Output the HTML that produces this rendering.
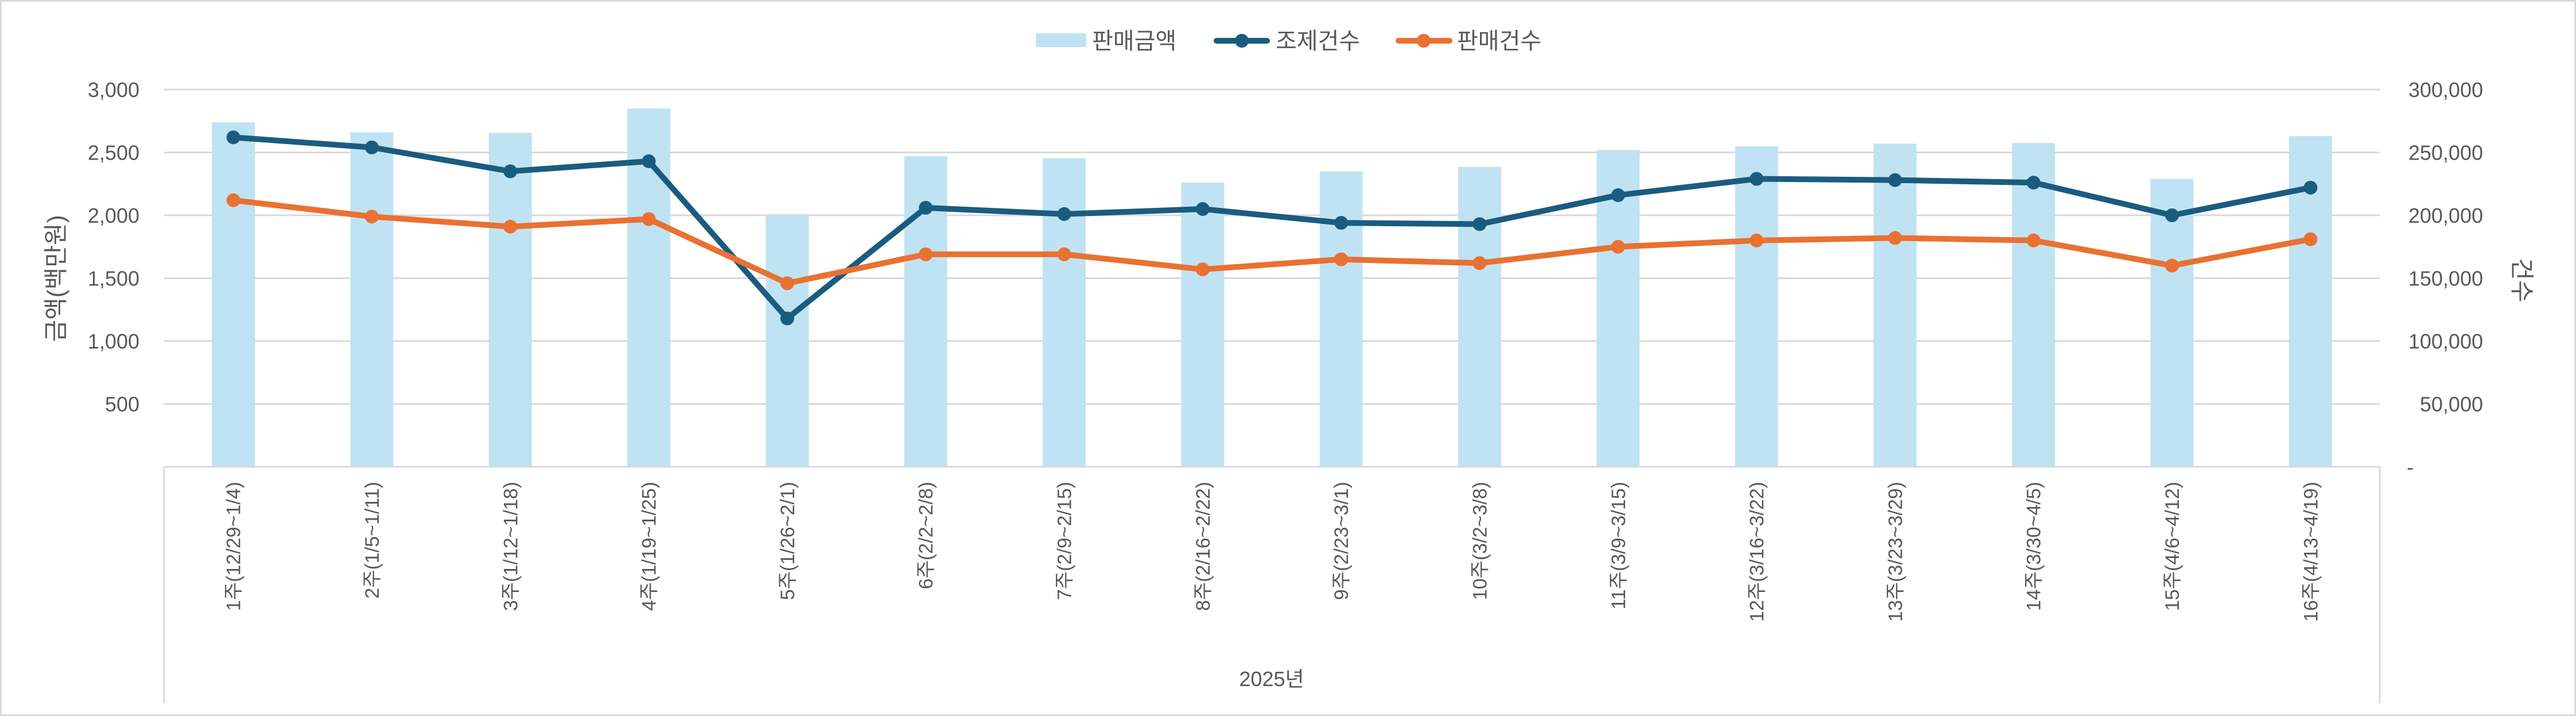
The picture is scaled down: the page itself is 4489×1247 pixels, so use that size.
<!DOCTYPE html>
<html><head><meta charset="utf-8"><style>
html,body{margin:0;padding:0;background:#fff;}
svg{display:block;font-family:"Liberation Sans","Noto Sans CJK KR",sans-serif;}
</style></head><body>
<svg id="chart" width="4489" height="1247" viewBox="0 0 4489 1247" xmlns="http://www.w3.org/2000/svg">
<rect x="1.5" y="1.5" width="4486" height="1244" fill="#fff" stroke="#d9d9d9" stroke-width="3"/>
<g font-size="40" fill="#595959">
  <g>
    <rect x="1805" y="58" width="88" height="24" fill="#c0e3f3"/>
    <text x="1903" y="85">판매금액</text>
  </g>
  <g>
    <line x1="2120" y1="71" x2="2208" y2="71" stroke="#1a5c7f" stroke-width="10" stroke-linecap="round"/>
    <circle cx="2164" cy="71" r="12" fill="#1a5c7f"/>
    <text x="2223" y="85">조제건수</text>
  </g>
  <g>
    <line x1="2437" y1="71" x2="2526" y2="71" stroke="#e97132" stroke-width="10" stroke-linecap="round"/>
    <circle cx="2481" cy="71" r="12" fill="#e97132"/>
    <text x="2539" y="85">판매건수</text>
  </g>
</g>
<g id="grid"></g>
<g id="bars"></g>
<g id="lines"></g>
<g id="yl" font-size="36" fill="#595959" text-anchor="end"></g>
<g id="yr" font-size="36" fill="#595959" text-anchor="end"></g>
<g id="xl" font-size="34" fill="#595959" text-anchor="end"></g>
<line x1="286" y1="813" x2="286" y2="1225" stroke="#d9d9d9" stroke-width="3"/>
<line x1="4147" y1="813" x2="4147" y2="1225" stroke="#d9d9d9" stroke-width="3"/>
<line x1="286" y1="813" x2="4147" y2="813" stroke="#d9d9d9" stroke-width="3"/>
<text x="2216" y="1195" font-size="36" fill="#595959" text-anchor="middle">2025년</text>
<text transform="translate(112,485) rotate(-90)" font-size="42" fill="#595959" text-anchor="middle">금액(백만원)</text>
<text transform="translate(4380,488) rotate(90)" font-size="42" fill="#595959" text-anchor="middle">건수</text>
</svg>
<script>
const categories = ["1주(12/29~1/4)","2주(1/5~1/11)","3주(1/12~1/18)","4주(1/19~1/25)","5주(1/26~2/1)","6주(2/2~2/8)","7주(2/9~2/15)","8주(2/16~2/22)","9주(2/23~3/1)","10주(3/2~3/8)","11주(3/9~3/15)","12주(3/16~3/22)","13주(3/23~3/29)","14주(3/30~4/5)","15주(4/6~4/12)","16주(4/13~4/19)"];
const salesAmount = [2740,2660,2655,2850,2010,2470,2455,2260,2350,2385,2520,2550,2570,2575,2290,2630];
const dispenseCount = [262000,254000,235000,243000,118000,206000,201000,205000,194000,193000,216000,229000,228000,226000,200000,222000];
const salesCount = [212000,199000,191000,197000,146000,169000,169000,157000,165000,162000,175000,180000,182000,180000,160000,181000];
const leftTicks = [500,1000,1500,2000,2500,3000];
const leftTickLabels = ["500","1,000","1,500","2,000","2,500","3,000"];
const rightTicks = [0,50000,100000,150000,200000,250000,300000];
const rightTickLabels = ["-","50,000","100,000","150,000","200,000","250,000","300,000"];

const NS="http://www.w3.org/2000/svg";
const L=286,R=4147,T=156,B=813;
const bw=(R-L)/categories.length;
const xc=i=>L+bw*(i+0.5);
const yL=v=>B-(v/3000)*(B-T);
const yR=v=>B-(v/300000)*(B-T);
function mk(tag,attrs,parent){const e=document.createElementNS(NS,tag);for(const k in attrs)e.setAttribute(k,attrs[k]);parent.appendChild(e);return e;}
const grid=document.getElementById('grid');
leftTicks.forEach(v=>{
  const ln=mk('line',{x1:L,x2:R,y1:yL(v),y2:yL(v),stroke:'#d9d9d9','stroke-width':3},grid);
  
  
});
const yl=document.getElementById('yl');
leftTicks.forEach((v,i)=>{
  const t=mk('text',{x:243,y:yL(v)+13},yl);t.textContent=leftTickLabels[i];
  
  
});
const yr=document.getElementById('yr');
rightTicks.forEach((v,i)=>{
  const t=mk('text',{x:4327,y:yR(v)+13},yr);t.textContent=rightTickLabels[i];
  if(i===0){t.setAttribute('text-anchor','start');t.setAttribute('x','4194');}
  
  
});
const bars=document.getElementById('bars');
salesAmount.forEach((v,i)=>{
  const r=mk('rect',{x:xc(i)-37.5,y:yL(v),width:75,height:B-yL(v),fill:'#c0e3f3'},bars);
  
  
});
const lines=document.getElementById('lines');
function series(data,color,name){
  const p=mk('polyline',{points:data.map((v,i)=>xc(i)+','+yR(v)).join(' '),fill:'none',stroke:color,'stroke-width':10,'stroke-linejoin':'round'},lines);
  
  
  data.forEach((v,i)=>{
    const c=mk('circle',{cx:xc(i),cy:yR(v),r:12,fill:color},lines);
    
    
  });
}
series(dispenseCount,'#1a5c7f','dispense-count');
series(salesCount,'#e97132','sales-count');
const xl=document.getElementById('xl');
categories.forEach((c,i)=>{
  const t=mk('text',{transform:'translate('+(xc(i)+12)+',839) rotate(-90)'},xl);t.textContent=c;
  
  
});
</script>
</body></html>
